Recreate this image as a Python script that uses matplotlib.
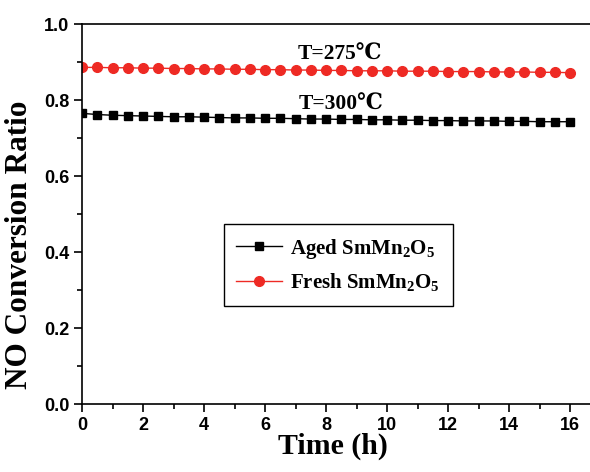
import numpy as np
import matplotlib
matplotlib.use('Agg')
import matplotlib.pyplot as plt
from matplotlib.ticker import MultipleLocator

time_h = [0.0, 0.5, 1.0, 1.5, 2.0, 2.5, 3.0, 3.5, 4.0, 4.5, 5.0, 5.5, 6.0, 6.5,
          7.0, 7.5, 8.0, 8.5, 9.0, 9.5, 10.0, 10.5, 11.0, 11.5, 12.0, 12.5,
          13.0, 13.5, 14.0, 14.5, 15.0, 15.5, 16.0]
aged = [0.765, 0.762, 0.760, 0.759, 0.758, 0.757, 0.756, 0.756, 0.755, 0.754,
        0.753, 0.753, 0.752, 0.752, 0.751, 0.750, 0.750, 0.749, 0.749, 0.748,
        0.748, 0.747, 0.747, 0.746, 0.746, 0.745, 0.745, 0.745, 0.744, 0.744,
        0.743, 0.743, 0.743]
fresh = [0.886, 0.886, 0.885, 0.885, 0.884, 0.884, 0.883, 0.883, 0.882, 0.882,
         0.881, 0.881, 0.880, 0.880, 0.879, 0.879, 0.878, 0.878, 0.877, 0.877,
         0.877, 0.876, 0.876, 0.876, 0.875, 0.875, 0.875, 0.874, 0.874, 0.874,
         0.873, 0.873, 0.872]
series_labels = ['Aged SmMn$_2$O$_5$', 'Fresh SmMn$_2$O$_5$']
notes = ['T=275\u2103', 'T=300\u2103']

plt.rcParams['mathtext.fontset'] = 'custom'
plt.rcParams['mathtext.rm'] = 'Liberation Serif:bold'
plt.rcParams['mathtext.it'] = 'Liberation Serif:bold'
plt.rcParams['mathtext.bf'] = 'Liberation Serif:bold'

serif = ['Liberation Serif', 'DejaVu Serif', 'Noto Sans CJK SC']
sans = ['Liberation Sans', 'DejaVu Sans']

fig = plt.figure(figsize=(5.9, 4.72), dpi=100)
ax = fig.add_axes([0.139, 0.144, 0.879, 0.805])

ax.plot(time_h, aged, color='black', lw=1, marker='s', ms=5.8, label=series_labels[0])
ax.plot(time_h, fresh, color='#ee2a24', lw=1, marker='o', ms=7, label=series_labels[1])

ax.set_xlim(0, 17)
ax.set_ylim(0, 1.0)
ax.xaxis.set_major_locator(MultipleLocator(2))
ax.xaxis.set_minor_locator(MultipleLocator(1))
ax.yaxis.set_major_locator(MultipleLocator(0.2))
ax.yaxis.set_minor_locator(MultipleLocator(0.1))
ax.tick_params(which='major', direction='out', length=6, width=1.2, pad=3)
ax.tick_params(which='minor', direction='out', length=3.5, width=1.2)
for s in ax.spines.values():
    s.set_linewidth(1.2)
for lab in ax.get_xticklabels() + ax.get_yticklabels():
    lab.set_family(sans)
    lab.set_fontweight('bold')
    lab.set_fontsize(13)

ax.set_xlabel('Time (h)', family=serif, fontweight='bold', fontsize=21.5)
ax.xaxis.set_label_coords(0.484, -0.075)
ax.set_ylabel('NO Conversion Ratio', family=serif, fontweight='bold', fontsize=22.5)
ax.yaxis.set_label_coords(-0.092, 0.42)

ax.text(8.46, 0.918, notes[0], family=serif, fontweight='bold', fontsize=15.5, ha='center', va='center')
ax.text(8.5, 0.787, notes[1], family=serif, fontweight='bold', fontsize=15.5, ha='center', va='center')

leg = ax.legend(loc='center', bbox_to_anchor=(0.494, 0.366), fancybox=False,
                edgecolor='black', framealpha=1, handlelength=2.2, handletextpad=0.4,
                labelspacing=0.5, borderpad=0.6,
                prop={'family': serif, 'weight': 'bold', 'size': 15})
leg.get_frame().set_linewidth(1.0)

fig.savefig('out.png', dpi=100)
